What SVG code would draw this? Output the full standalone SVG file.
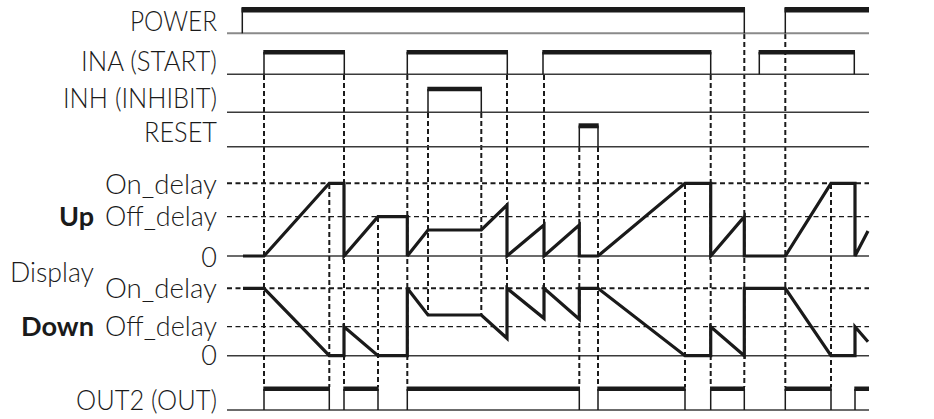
<svg xmlns="http://www.w3.org/2000/svg" width="934" height="419" viewBox="0 0 934 419">
<style>
.lbl{font-family:Lato,"Noto Sans","Liberation Sans",sans-serif;font-weight:300;font-size:27px;fill:#1a1a1a;text-anchor:end}
.bold{font-weight:700}
.base{stroke:#3a3a3a;stroke-width:1.5;fill:none}
.pbase{stroke:#8a8a8a;stroke-width:2;fill:none}
.edge{stroke:#1a1a1a;stroke-width:1.5;fill:none}
.bar{stroke:#1a1a1a;stroke-width:4.4;fill:none}
.vd{stroke:#1a1a1a;stroke-width:2;stroke-dasharray:5 3;fill:none}
.hd1{stroke:#1a1a1a;stroke-width:2;stroke-dasharray:5 3.5;fill:none}
.hd2{stroke:#1a1a1a;stroke-width:1.3;stroke-dasharray:5 3.5;fill:none}
.wave{stroke:#1a1a1a;stroke-width:3.2;fill:none;stroke-linejoin:miter;stroke-miterlimit:3}
</style>
<rect width="934" height="419" fill="#fff"/>

<g id="labels">
<text class="lbl" x="217" y="31" textLength="87" lengthAdjust="spacingAndGlyphs">POWER</text>
<text class="lbl" x="217" y="71" textLength="136" lengthAdjust="spacingAndGlyphs">INA (START)</text>
<text class="lbl" x="217" y="108" textLength="154" lengthAdjust="spacingAndGlyphs">INH (INHIBIT)</text>
<text class="lbl" x="217" y="142" textLength="73" lengthAdjust="spacingAndGlyphs">RESET</text>
<text class="lbl" x="217" y="193.5" textLength="112" lengthAdjust="spacingAndGlyphs">On_delay</text>
<text class="lbl bold" x="94" y="226" textLength="35" lengthAdjust="spacingAndGlyphs">Up</text>
<text class="lbl" x="217" y="226" textLength="112" lengthAdjust="spacingAndGlyphs">Off_delay</text>
<text class="lbl" x="217" y="267">0</text>
<text class="lbl" x="94" y="282" textLength="84" lengthAdjust="spacingAndGlyphs">Display</text>
<text class="lbl" x="217" y="297.5" textLength="112" lengthAdjust="spacingAndGlyphs">On_delay</text>
<text class="lbl bold" x="94" y="336" textLength="73" lengthAdjust="spacingAndGlyphs">Down</text>
<text class="lbl" x="217" y="336" textLength="112" lengthAdjust="spacingAndGlyphs">Off_delay</text>
<text class="lbl" x="217" y="365">0</text>
<text class="lbl" x="217" y="409.5" textLength="141" lengthAdjust="spacingAndGlyphs">OUT2 (OUT)</text>
</g>

<g id="grid">
<line class="hd1" x1="227" y1="183.3" x2="869" y2="183.3"/>
<line class="hd2" x1="227" y1="216.7" x2="869" y2="216.7"/>
<line class="base" x1="227" y1="256" x2="869" y2="256"/>
<line class="hd1" x1="227" y1="288.3" x2="869" y2="288.3"/>
<line class="hd2" x1="227" y1="326.7" x2="869" y2="326.7"/>
<line class="base" x1="227" y1="355.7" x2="869" y2="355.7"/>
</g>

<g id="connectors">
<line class="vd" x1="264" y1="75" x2="264" y2="387"/>
<line class="vd" x1="329.3" y1="184" x2="329.3" y2="387"/>
<line class="vd" x1="344" y1="75" x2="344" y2="387"/>
<line class="vd" x1="378" y1="217" x2="378" y2="387"/>
<line class="vd" x1="407.3" y1="75" x2="407.3" y2="387"/>
<line class="vd" x1="428" y1="113" x2="428" y2="315"/>
<line class="vd" x1="481.3" y1="113" x2="481.3" y2="315"/>
<line class="vd" x1="507" y1="75" x2="507" y2="289"/>
<line class="vd" x1="544" y1="75" x2="544" y2="289"/>
<line class="vd" x1="579.3" y1="147" x2="579.3" y2="387"/>
<line class="vd" x1="598" y1="147" x2="598" y2="387"/>
<line class="vd" x1="685" y1="184" x2="685" y2="387"/>
<line class="vd" x1="710.7" y1="75" x2="710.7" y2="387"/>
<line class="vd" x1="744.3" y1="34" x2="744.3" y2="387"/>
<line class="vd" x1="785.3" y1="34" x2="785.3" y2="387"/>
<line class="vd" x1="831" y1="184" x2="831" y2="387"/>
</g>

<g id="power">
<line class="pbase" x1="227" y1="33.3" x2="869" y2="33.3"/>
<line class="edge" x1="242.3" y1="8" x2="242.3" y2="33.3"/>
<line class="edge" x1="744.3" y1="8" x2="744.3" y2="33.3"/>
<line class="edge" x1="785.3" y1="8" x2="785.3" y2="33.3"/>
<line class="bar" style="stroke-width:5.6" x1="241.5" y1="9.7" x2="745" y2="9.7"/>
<line class="bar" style="stroke-width:5.6" x1="784.5" y1="9.7" x2="869" y2="9.7"/>
</g>

<g id="ina">
<line class="base" x1="227" y1="74.3" x2="869" y2="74.3"/>
<path class="edge" d="M264,52 V74.3 M344.3,52 V74.3 M407.3,52 V74.3 M507.3,52 V74.3 M543,52 V74.3 M710.7,52 V74.3 M759.3,52 V74.3 M854.3,52 V74.3"/>
<path class="bar" d="M263.3,52.2 H345 M406.6,52.2 H508 M542.3,52.2 H711.4 M758.6,52.2 H855"/>
</g>

<g id="inh">
<line class="base" x1="227" y1="112.3" x2="869" y2="112.3"/>
<path class="edge" d="M428,89 V112.3 M481.3,89 V112.3"/>
<path class="bar" d="M427.3,89 H482"/>
</g>

<g id="reset">
<line class="base" x1="227" y1="146.7" x2="869" y2="146.7"/>
<path class="edge" d="M579.3,125.5 V146.7 M598,125.5 V146.7"/>
<path class="bar" style="stroke-width:5" d="M578.6,125.8 H598.7"/>
</g>

<g id="up-display">
<path class="wave" d="M243,256 L264,256 L329.3,183.3 L344,183.3 L344,256 L378,216.7 L407.3,216.7 L407.3,256 L428,230 L481.3,230 L507,205 L507,256 L544,225 L544,256 L579.3,225 L579.3,256 L598,256 L685,183.3 L710.7,183.3 L710.7,256 L744.3,216.7 L744.3,256 L785.3,256 L831,183.3 L855,183.3 L855,256 L868,231"/>
</g>

<g id="down-display">
<path class="wave" d="M243,288.3 L264,288.3 L329.3,355.7 L344,355.7 L344,326.7 L378,355.7 L407.3,355.7 L407.3,288.3 L428,315 L481.3,315 L507,338.3 L507,288.3 L544,318.3 L544,288.3 L579.3,319.3 L579.3,288.3 L598,288.3 L685,355.7 L710.7,355.7 L710.7,326.7 L744.3,355.7 L744.3,288.3 L785.3,288.3 L831,355.7 L855,355.7 L855,326.7 L868,341.7"/>
</g>

<g id="out2">
<line class="base" x1="227" y1="410" x2="869" y2="410"/>
<path class="edge" d="M264,389 V410 M329.3,389 V410 M344,389 V410 M378,389 V410 M407.3,389 V410 M579.3,389 V410 M598,389 V410 M685,389 V410 M710.7,389 V410 M744.3,389 V410 M785.3,389 V410 M831,389 V410 M855,389 V410"/>
<path class="bar" d="M263.3,388.8 H330 M343.3,388.8 H378.7 M406.6,388.8 H580 M597.3,388.8 H685.7 M710,388.8 H745 M784.6,388.8 H831.7 M854.3,388.8 H869"/>
</g>
</svg>
